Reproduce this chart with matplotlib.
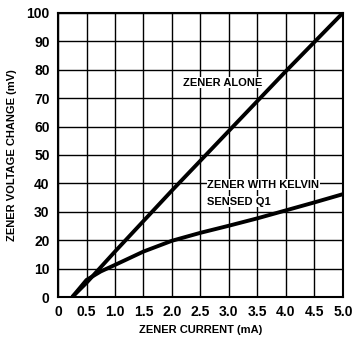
import numpy as np
import matplotlib.pyplot as plt

# data
current = [0.25, 0.5, 1.0, 2.0, 3.0, 4.0, 5.0]
zener_alone = [0, 5, 16, 37.5, 58.5, 79.5, 100]

current_k = [0.25, 0.5, 0.75, 1.0, 1.5, 2.0, 2.5, 3.0, 3.5, 4.0, 4.5, 5.0]
zener_kelvin = [0, 6, 9, 11.3, 16, 19.8, 22.6, 25.1, 27.7, 30.5, 33.3, 36.2]

xticks = [0, 0.5, 1.0, 1.5, 2.0, 2.5, 3.0, 3.5, 4.0, 4.5, 5.0]
xticklabels = ['0', '0.5', '1.0', '1.5', '2.0', '2.5', '3.0', '3.5', '4.0', '4.5', '5.0']
yticks = [0, 10, 20, 30, 40, 50, 60, 70, 80, 90, 100]

plt.rcParams['font.family'] = ['Liberation Sans', 'DejaVu Sans']

fig = plt.figure(figsize=(3.56, 3.41), dpi=100)
ax = fig.add_axes([0.163, 0.129, 0.8, 0.833])

ax.plot(current, zener_alone, color='black', lw=2.8, solid_capstyle='butt')
ax.plot(current_k, zener_kelvin, color='black', lw=2.8, solid_capstyle='butt')

ax.set_xlim(0, 5.0)
ax.set_ylim(0, 100)
ax.set_xticks(xticks)
ax.set_xticklabels(xticklabels, fontweight='bold')
ax.set_yticks(yticks)
ax.set_yticklabels([str(v) for v in yticks], fontweight='bold')
ax.grid(True, color='black', lw=1.0)
for s in ax.spines.values():
    s.set_linewidth(1.5)
ax.tick_params(length=0, labelsize=10, pad=6)

ax.set_xlabel('ZENER CURRENT (mA)', fontsize=8, fontweight='bold', labelpad=4)
ax.set_ylabel('ZENER VOLTAGE CHANGE (mV)', fontsize=8, fontweight='bold', labelpad=7)

box = dict(facecolor='white', edgecolor='none', pad=0.5)
ax.text(2.2, 75.5, 'ZENER ALONE', fontsize=8, fontweight='bold',
        va='center', ha='left', bbox=box)
ax.text(2.62, 39.6, 'ZENER WITH KELVIN', fontsize=8, fontweight='bold',
        va='center', ha='left', bbox=box)
ax.text(2.62, 33.6, 'SENSED Q1', fontsize=8, fontweight='bold',
        va='center', ha='left', bbox=box)

fig.savefig('out.png', dpi=100)
